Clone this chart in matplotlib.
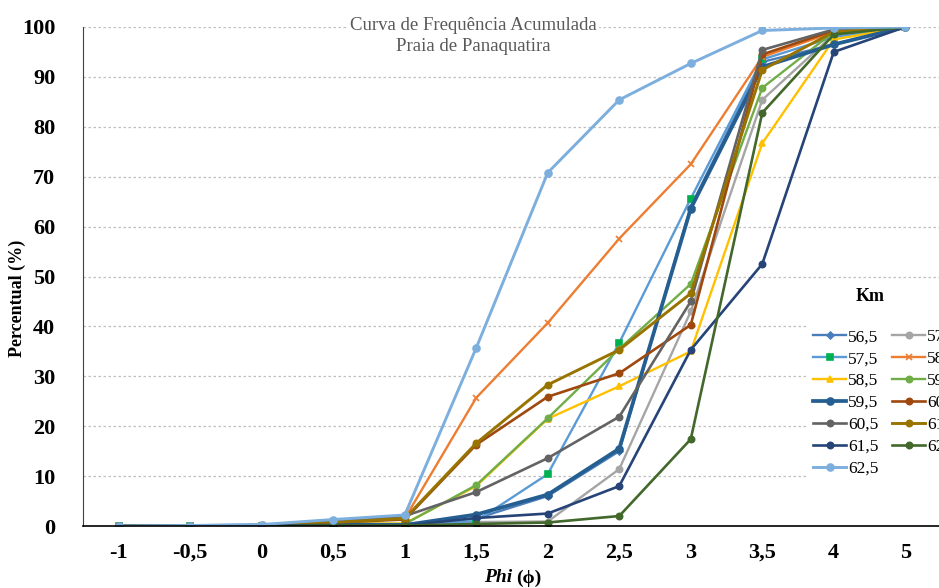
import matplotlib

matplotlib.use("Agg")
import matplotlib.pyplot as plt

# Phi classes (categorical axis)
phi_labels = ["-1", "-0,5", "0", "0,5", "1", "1,5", "2", "2,5", "3", "3,5", "4", "5"]

# Cumulative percentage per km station
km_labels = ["56,5", "57", "57,5", "58", "58,5", "59", "59,5",
             "60", "60,5", "61", "61,5", "62", "62,5"]

km_56_5 = [0, 0, 0.1, 0.5, 0.3, 1.5, 6.0, 15.0, 64.0, 93.0, 96.5, 100]
km_57 = [0, 0, 0.1, 0.4, 0.2, 0.8, 0.9, 11.4, 43.0, 85.4, 98.5, 100]
km_57_5 = [0, 0, 0.1, 0.3, 0.2, 1.0, 10.4, 36.7, 65.6, 93.5, 98.0, 100]
km_58 = [0, 0, 0.2, 0.8, 1.5, 25.7, 40.7, 57.6, 72.5, 94.0, 99.0, 100]
km_58_5 = [0, 0, 0.1, 0.5, 0.5, 8.0, 21.5, 28.0, 35.0, 76.7, 97.5, 100]
km_59 = [0, 0, 0.1, 0.4, 0.4, 8.2, 21.6, 35.5, 48.5, 87.8, 99.0, 100]
km_59_5 = [0, 0, 0.1, 0.3, 0.2, 2.3, 6.3, 15.5, 63.6, 92.0, 96.5, 100]
km_60 = [0, 0, 0.1, 0.7, 1.3, 16.3, 25.9, 30.6, 40.3, 94.5, 99.3, 100]
km_60_5 = [0, 0, 0.2, 0.9, 2.0, 6.8, 13.6, 21.9, 45.0, 95.4, 99.5, 100]
km_61 = [0, 0, 0.1, 0.7, 1.5, 16.6, 28.3, 35.3, 46.6, 91.4, 99.0, 100]
km_61_5 = [0, 0, 0.1, 0.2, 0.1, 1.6, 2.5, 8.0, 35.3, 52.5, 95.0, 100]
km_62 = [0, 0, 0.0, 0.1, 0.1, 0.4, 0.7, 2.0, 17.4, 82.8, 98.5, 100]
km_62_5 = [0, 0.1, 0.3, 1.3, 2.2, 35.7, 70.8, 85.4, 92.7, 99.3, 99.8, 100]

series = [km_56_5, km_57, km_57_5, km_58, km_58_5, km_59, km_59_5,
          km_60, km_60_5, km_61, km_61_5, km_62, km_62_5]

# (line colour, marker, marker colour, line width, marker size)
styles = [
    ("#4A7EBB", "D", "#4A7EBB", 1.7, 3.5),
    ("#A5A5A5", "o", "#A5A5A5", 1.7, 4.5),
    ("#5B9BD5", "s", "#00B050", 1.7, 5.0),
    ("#ED7D31", "x", "#ED7D31", 1.7, 5.0),
    ("#FFC000", "^", "#FFC000", 1.7, 4.0),
    ("#70AD47", "o", "#70AD47", 1.7, 4.5),
    ("#255E91", "o", "#255E91", 2.7, 5.0),
    ("#9E480E", "o", "#9E480E", 1.9, 4.5),
    ("#636363", "o", "#636363", 1.9, 4.5),
    ("#997300", "o", "#997300", 2.1, 4.5),
    ("#264478", "o", "#264478", 1.9, 4.5),
    ("#43682B", "o", "#43682B", 1.9, 4.5),
    ("#7CAFDD", "o", "#7CAFDD", 2.1, 5.0),
]

SERIF = ["Liberation Serif", "DejaVu Serif"]

fig = plt.figure(figsize=(9.39, 5.88), dpi=100)
W, H = 939, 588
ax = fig.add_axes([83 / W, (H - 526) / H, 858 / W, 499 / H])

x = list(range(len(phi_labels)))
handles = []
for values, label, (lc, mk, mc, lw, ms) in zip(series, km_labels, styles):
    (line,) = ax.plot(x, values, color=lc, lw=lw, marker=mk, markersize=ms,
                      markerfacecolor=mc, markeredgecolor=mc,
                      markeredgewidth=1.2, label=label)
    handles.append(line)

ax.set_xlim(-0.5, len(phi_labels) - 0.5)
ax.set_ylim(0, 100)
ax.set_yticks(range(0, 101, 10))
ax.set_xticks(x)
ax.set_xticklabels(phi_labels)
ax.tick_params(axis="y", length=0, pad=20)
ax.tick_params(axis="x", length=0, pad=12)
for lab in ax.get_xticklabels() + ax.get_yticklabels():
    lab.set_family(SERIF)
    lab.set_fontweight("bold")
    lab.set_fontsize(16)

ax.grid(axis="y", color="#BFBFBF", linestyle=(0, (2, 2)), linewidth=0.9)
ax.set_axisbelow(True)
for side in ("top", "right"):
    ax.spines[side].set_visible(False)
ax.spines["left"].set_color("#404040")
ax.spines["bottom"].set_color("black")
ax.spines["bottom"].set_linewidth(1.2)

ax.set_ylabel("Percentual (%)", family=SERIF, fontweight="bold", fontsize=13)
ax.yaxis.set_label_coords(-0.066, 0.457)

fig.text(512 / W, 1 - 578 / H, "Phi", family=SERIF, fontweight="bold",
         style="italic", fontsize=14, ha="right", va="center")
fig.text(516 / W, 1 - 578 / H, "(ϕ)", family=SERIF, fontweight="bold",
         fontsize=14, ha="left", va="center")

fig.text(473 / W, 1 - 36 / H, "Curva de Frequência Acumulada\nPraia de Panaquatira",
         family=SERIF, fontsize=13.5, color="#595959", ha="center", va="center",
         linespacing=1.25,
         bbox=dict(facecolor="white", edgecolor="none", pad=2))

# Excel fills the legend row by row; matplotlib fills by column
order = list(range(0, len(handles), 2)) + list(range(1, len(handles), 2))
leg = ax.legend([handles[i] for i in order], [km_labels[i] for i in order],
                ncol=2, loc="upper left",
                bbox_to_anchor=(808 / W, 1 - 324 / H), bbox_transform=fig.transFigure,
                frameon=True, facecolor="white", edgecolor="none", framealpha=1,
                prop={"family": SERIF, "size": 12.5},
                handlelength=1.9, handletextpad=0.1, columnspacing=0.8,
                labelspacing=0.33, borderpad=0.3, borderaxespad=0)
fig.text(870 / W, 1 - 297 / H, "Km", family=SERIF, fontweight="bold",
         fontsize=13, ha="center", va="center")

fig.savefig("out.png", dpi=100)
